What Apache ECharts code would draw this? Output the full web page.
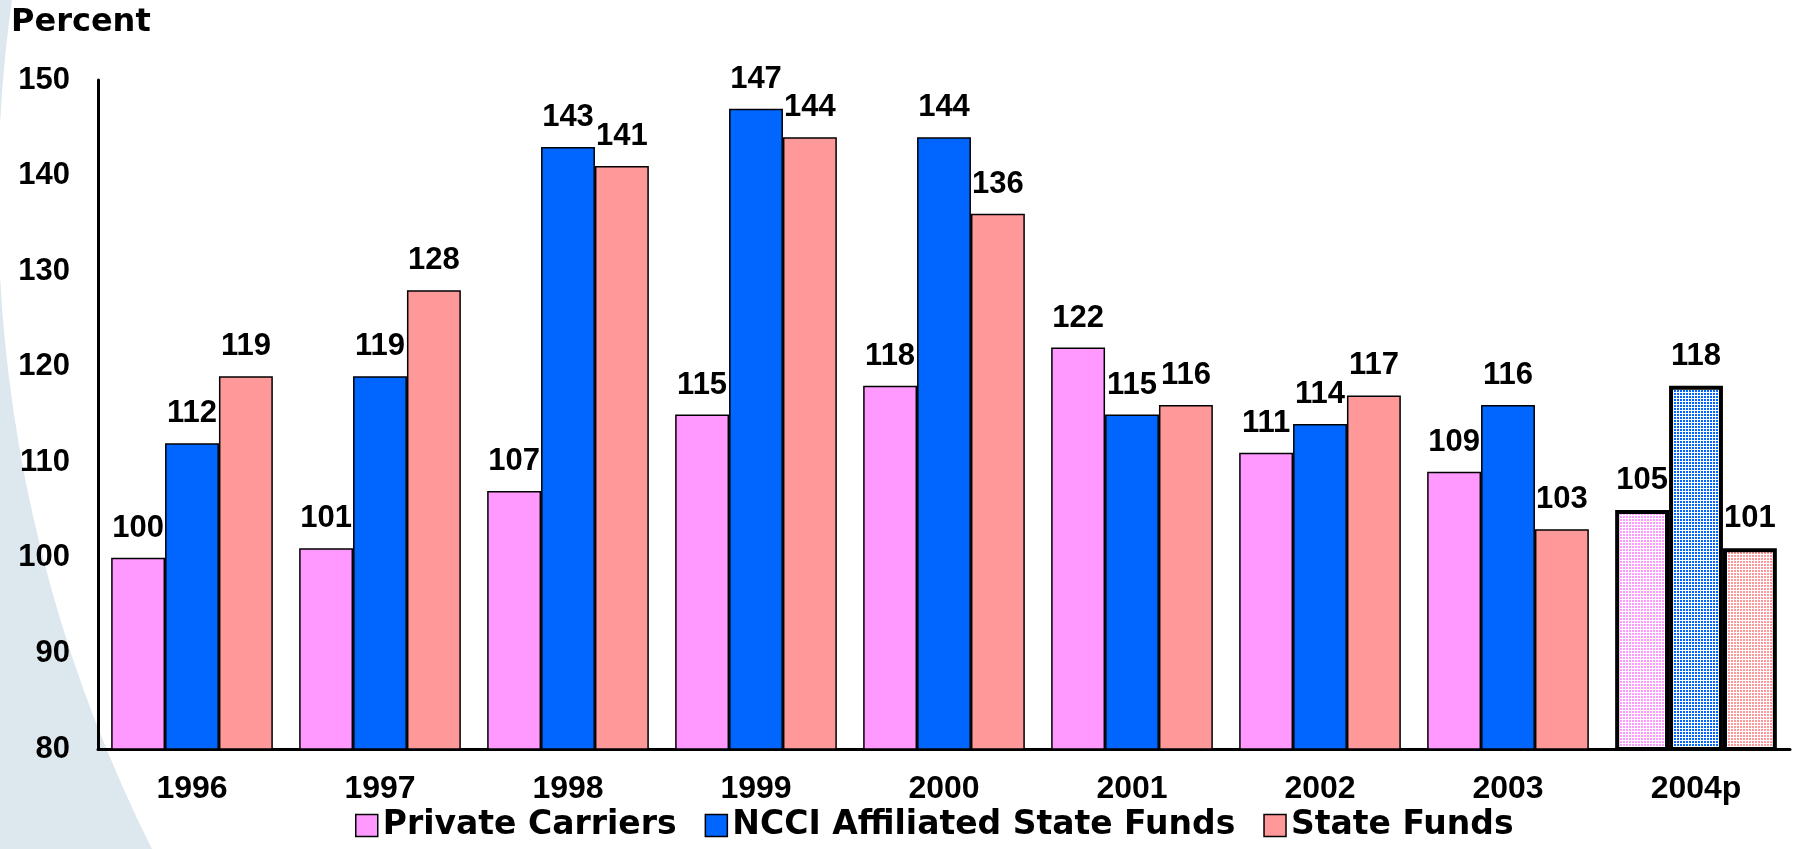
<!DOCTYPE html>
<html>
<head>
<meta charset="utf-8">
<script src="https://cdn.jsdelivr.net/npm/echarts@6/dist/echarts.min.js"></script>
<style>
  html, body { margin: 0; padding: 0; background: #ffffff; }
  #chart { width: 1793px; height: 849px; }
</style>
</head>
<body>
<div id="chart"></div>
<script>
// Years on the category axis ("p" = preliminary)
const years = ['1996', '1997', '1998', '1999', '2000', '2001', '2002', '2003', '2004p'];

// Index values, percent
const privateCarriers = [100, 101, 107, 115, 118, 122, 111, 109, 105];
const ncciStateFunds  = [112, 119, 143, 147, 144, 115, 114, 116, 118];
const stateFunds      = [119, 128, 141, 144, 136, 116, 117, 103, 101];

const seriesNames = ['Private Carriers', 'NCCI Affiliated State Funds', 'State Funds'];
const seriesColors = ['#ff99ff', '#0066ff', '#ff9999'];

// Fine white mesh used for the preliminary year
function meshPattern(color) {
  const c = document.createElement('canvas');
  c.width = 3; c.height = 3;
  const ctx = c.getContext('2d');
  ctx.fillStyle = '#ffffff';
  ctx.fillRect(0, 0, 3, 3);
  ctx.fillStyle = color;
  ctx.fillRect(0, 0, 2, 2);
  return { image: c, repeat: 'repeat' };
}

function buildData(values, color) {
  return values.map((v, i) => {
    if (years[i].endsWith('p')) {
      return {
        value: v,
        itemStyle: { color: meshPattern(color), borderColor: '#000', borderWidth: 4 }
      };
    }
    return v;
  });
}

const FONT = '"Liberation Sans", Arial, sans-serif';
const WIDE_FONT = '"DejaVu Sans", Verdana, sans-serif';

const chart = echarts.init(document.getElementById('chart'), null, { renderer: 'canvas' });

chart.setOption({
  backgroundColor: '#dce7ee',
  animation: false,
  graphic: [
    {
      type: 'circle',
      z: -10,
      silent: true,
      shape: { cx: 1442, cy: 200, r: 1444 },
      style: { fill: '#ffffff' }
    },
    {
      type: 'text',
      left: 11,
      top: 7,
      style: { text: 'Percent', font: 'bold 32px ' + WIDE_FONT, fill: '#000' }
    }
  ],
  grid: { left: 98, right: 3, top: 80, bottom: 100 },
  legend: {
    bottom: 2,
    left: 350,
    itemWidth: 22,
    itemHeight: 22,
    itemGap: 28,
    icon: 'rect',
    textStyle: { fontFamily: WIDE_FONT, fontWeight: 'bold', fontSize: 33, color: '#000' },
    itemStyle: { borderColor: '#000', borderWidth: 1.5 },
    data: seriesNames
  },
  xAxis: {
    type: 'category',
    data: years,
    axisLine: { lineStyle: { color: '#000', width: 3 } },
    axisTick: { show: false },
    axisLabel: { fontFamily: FONT, fontWeight: 'bold', fontSize: 32, color: '#000', margin: 24 }
  },
  yAxis: {
    type: 'value',
    min: 80,
    max: 150,
    interval: 10,
    axisLine: { show: true, lineStyle: { color: '#000', width: 3 } },
    axisTick: { show: false },
    splitLine: { show: false },
    axisLabel: { fontFamily: FONT, fontWeight: 'bold', fontSize: 31, color: '#000', margin: 28 }
  },
  series: [privateCarriers, ncciStateFunds, stateFunds].map((vals, k) => ({
    name: seriesNames[k],
    type: 'bar',
    barGap: '0%',
    barCategoryGap: '14%',
    data: buildData(vals, seriesColors[k]),
    itemStyle: { color: seriesColors[k], borderColor: '#000', borderWidth: 1.5 },
    label: {
      show: true,
      position: 'top',
      distance: 14,
      fontFamily: FONT,
      fontWeight: 'bold',
      fontSize: 31,
      color: '#000'
    }
  }))
});
</script>
</body>
</html>
